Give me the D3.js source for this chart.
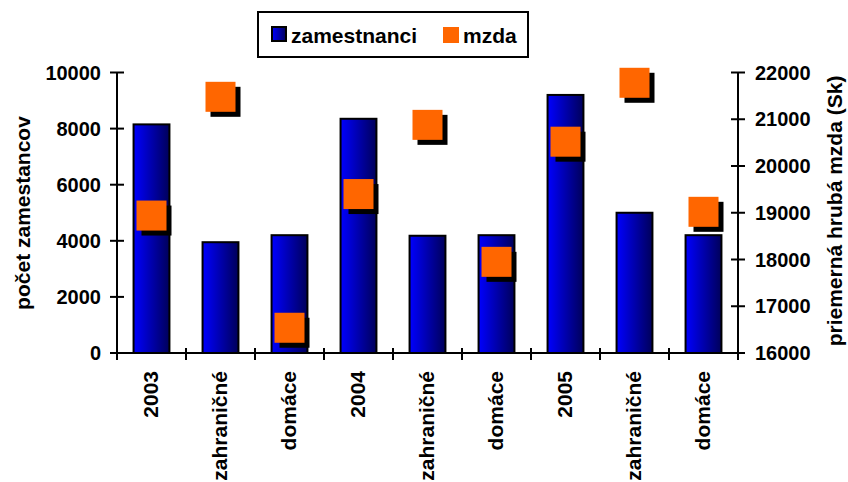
<!DOCTYPE html>
<html>
<head>
<meta charset="utf-8">
<script src="https://cdn.jsdelivr.net/npm/d3@7"></script>
<style>
  body { margin: 0; background: #fff; }
  svg { display: block; font-family: "Liberation Sans", Arial, sans-serif; font-weight: bold; }
</style>
</head>
<body>
<div id="chart"></div>
<script>
// data
const categories = ['2003', 'zahraničné', 'domáce', '2004', 'zahraničné', 'domáce', '2005', 'zahraničné', 'domáce']
const zamestnanci = [8150, 3950, 4200, 8350, 4180, 4200, 9200, 5000, 4200]
const mzda = [18940, 21480, 16540, 19400, 20880, 17950, 20520, 21780, 19020]
const leftTicks = [0, 2000, 4000, 6000, 8000, 10000]
const rightTicks = [16000, 17000, 18000, 19000, 20000, 21000, 22000]

const width = 848
const height = 482
const plotLeft = 117
const plotRight = 738
const plotTop = 72.5
const plotBottom = 353

const svg = d3.select('#chart')
  .append('svg')
  .attr('width', width)
  .attr('height', height)

const defs = svg.append('defs')
const grad = defs.append('linearGradient')
  .attr('id', 'barGrad')
  .attr('x1', 0).attr('x2', 1).attr('y1', 0).attr('y2', 0)
grad.append('stop').attr('offset', '0%').attr('stop-color', '#0000ff')
grad.append('stop').attr('offset', '100%').attr('stop-color', '#00005a')

const x = d3.scaleBand()
  .domain(d3.range(categories.length))
  .range([plotLeft, plotRight])
  .paddingInner(0.48)
  .paddingOuter(0.24)

const xStep = (plotRight - plotLeft) / categories.length

const y0 = d3.scaleLinear().domain([0, 10000]).range([plotBottom, plotTop])
const y1 = d3.scaleLinear().domain([16000, 22000]).range([plotBottom, plotTop])

// bars
svg.append('g')
  .selectAll('rect')
  .data(zamestnanci)
  .enter()
  .append('rect')
  .attr('x', (d, i) => x(i))
  .attr('y', d => y0(d))
  .attr('width', x.bandwidth())
  .attr('height', d => plotBottom - y0(d))
  .attr('fill', 'url(#barGrad)')
  .attr('stroke', '#000')
  .attr('stroke-width', 2)

// axes
const axisG = svg.append('g').attr('stroke', '#000').attr('stroke-width', 2)
axisG.append('line').attr('x1', plotLeft).attr('x2', plotRight).attr('y1', plotBottom).attr('y2', plotBottom)
axisG.append('line').attr('x1', plotLeft).attr('x2', plotLeft).attr('y1', plotTop).attr('y2', plotBottom)
axisG.append('line').attr('x1', plotRight).attr('x2', plotRight).attr('y1', plotTop).attr('y2', plotBottom)

// category ticks
axisG.selectAll('.xt')
  .data(d3.range(categories.length + 1))
  .enter()
  .append('line')
  .attr('x1', i => plotLeft + i * xStep)
  .attr('x2', i => plotLeft + i * xStep)
  .attr('y1', plotBottom - 5)
  .attr('y2', plotBottom + 7)

axisG.selectAll('.yl')
  .data(leftTicks)
  .enter()
  .append('line')
  .attr('x1', plotLeft - 7).attr('x2', plotLeft + 7)
  .attr('y1', d => y0(d)).attr('y2', d => y0(d))

axisG.selectAll('.yr')
  .data(rightTicks)
  .enter()
  .append('line')
  .attr('x1', plotRight - 7).attr('x2', plotRight + 7)
  .attr('y1', d => y1(d)).attr('y2', d => y1(d))

// tick labels
svg.append('g')
  .selectAll('text')
  .data(leftTicks)
  .enter()
  .append('text')
  .attr('x', plotLeft - 16)
  .attr('y', d => y0(d))
  .attr('dy', '0.36em')
  .attr('text-anchor', 'end')
  .style('font-size', '20px')
  .text(d => d)

svg.append('g')
  .selectAll('text')
  .data(rightTicks)
  .enter()
  .append('text')
  .attr('x', plotRight + 17)
  .attr('y', d => y1(d))
  .attr('dy', '0.36em')
  .attr('text-anchor', 'start')
  .style('font-size', '20px')
  .text(d => d)

svg.append('g')
  .selectAll('text')
  .data(categories)
  .enter()
  .append('text')
  .attr('transform', (d, i) => 'translate(' + (x(i) + x.bandwidth() / 2 + 6) + ',' + (plotBottom + 18) + ') rotate(-90)')
  .attr('text-anchor', 'end')
  .style('font-size', '21px')
  .text(d => d)

// axis titles
svg.append('text')
  .attr('transform', 'translate(30,213) rotate(-90)')
  .attr('text-anchor', 'middle')
  .style('font-size', '21px')
  .text('počet zamestancov')

svg.append('text')
  .attr('transform', 'translate(842,211) rotate(-90)')
  .attr('text-anchor', 'middle')
  .style('font-size', '21px')
  .text('priemerná hrubá mzda (Sk)')

// mzda markers (shadow + square)
const ms = 30
const mk = svg.append('g')
mk.selectAll('.sh')
  .data(mzda)
  .enter()
  .append('rect')
  .attr('x', (d, i) => x(i) + x.bandwidth() / 2 - ms / 2 + 5)
  .attr('y', d => y1(d) - ms / 2 + 5)
  .attr('width', ms)
  .attr('height', ms)
  .attr('fill', '#000')
mk.selectAll('.sq')
  .data(mzda)
  .enter()
  .append('rect')
  .attr('x', (d, i) => x(i) + x.bandwidth() / 2 - ms / 2)
  .attr('y', d => y1(d) - ms / 2)
  .attr('width', ms)
  .attr('height', ms)
  .attr('fill', '#ff6600')

// legend
const lg = svg.append('g')
lg.append('rect')
  .attr('x', 258).attr('y', 12)
  .attr('width', 270).attr('height', 45)
  .attr('fill', '#fff')
  .attr('stroke', '#000')
  .attr('stroke-width', 2)
lg.append('rect')
  .attr('x', 272).attr('y', 27)
  .attr('width', 14).attr('height', 14)
  .attr('fill', 'url(#barGrad)')
  .attr('stroke', '#000')
  .attr('stroke-width', 2)
lg.append('text')
  .attr('x', 291).attr('y', 35)
  .attr('dy', '0.36em')
  .style('font-size', '21px')
  .text('zamestnanci')
lg.append('rect')
  .attr('x', 443).attr('y', 27)
  .attr('width', 16).attr('height', 16)
  .attr('fill', '#ff6600')
lg.append('text')
  .attr('x', 463).attr('y', 35)
  .attr('dy', '0.36em')
  .style('font-size', '21px')
  .text('mzda')
</script>
</body>
</html>
